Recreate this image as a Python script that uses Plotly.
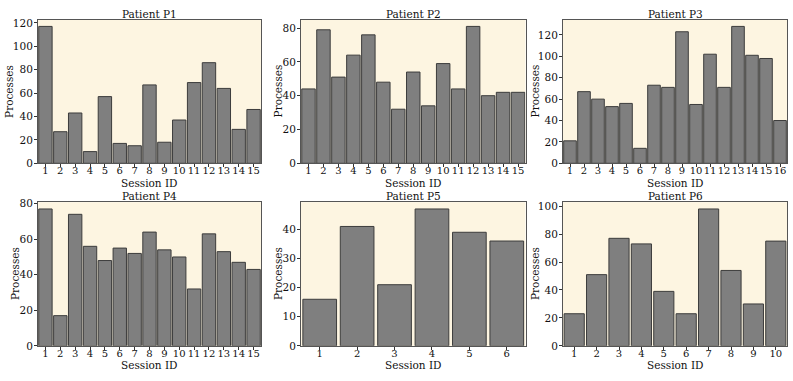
import plotly.graph_objects as go
from plotly.subplots import make_subplots

# processes per session
p1 = [117, 27, 43, 10, 57, 17, 15, 67, 18, 37, 69, 86, 64, 29, 46]
p2 = [44, 79, 51, 64, 76, 48, 32, 54, 34, 59, 44, 81, 40, 42, 42]
p3 = [21, 67, 60, 53, 56, 14, 73, 71, 123, 55, 102, 71, 128, 101, 98, 40]
p4 = [77, 17, 74, 56, 48, 55, 52, 64, 54, 50, 32, 63, 53, 47, 43]
p5 = [16, 41, 21, 47, 39, 36]
p6 = [23, 51, 77, 73, 39, 23, 98, 54, 30, 75]

patients = ["P1", "P2", "P3", "P4", "P5", "P6"]
values = [p1, p2, p3, p4, p5, p6]
ydticks = [20, 20, 20, 20, 10, 20]

W, H = 793, 381
FONT = "DejaVu Serif"
TXT = "#111"

fig = make_subplots(rows=2, cols=3)

# subplot boxes in pixels (left, right, top, bottom)
xbox = [(38, 261), (301, 525.5), (563, 787)]
ybox = [(15, 163), (203, 351)]
# x centre of the "Processes" label per subplot
ylab_x = [9.5, 278, 535, 15, 278, 535]

for i, (name, vals) in enumerate(zip(patients, values)):
    r, c = i // 3 + 1, i % 3 + 1
    sessions = list(range(1, len(vals) + 1))
    fig.add_trace(go.Bar(
        x=sessions, y=vals,
        marker=dict(color="#7f7f7f", line=dict(color="#3c3c3c", width=1)),
        showlegend=False,
    ), row=r, col=c)

    x0, x1 = xbox[c - 1]
    t, b = ybox[r - 1]
    n = i + 1
    xa = "xaxis" if n == 1 else f"xaxis{n}"
    ya = "yaxis" if n == 1 else f"yaxis{n}"
    fig.layout[xa].update(
        domain=[x0 / W, x1 / W],
        range=[0.5, len(vals) + 0.5],
        tickmode="array", tickvals=sessions,
    )
    fig.layout[ya].update(
        domain=[1 - b / H, 1 - t / H],
        range=[0, max(vals) * 1.05],
        dtick=ydticks[i],
    )
    # subplot title
    fig.add_annotation(
        text=f"Patient {name}", x=(x0 + x1) / 2 / W, y=1 - t / H,
        xref="paper", yref="paper", xanchor="center", yanchor="middle",
        yshift=6, showarrow=False, font=dict(size=10.5, color=TXT),
    )
    # x axis title
    fig.add_annotation(
        text="Session ID", x=(x0 + x1) / 2 / W, y=1 - b / H,
        xref="paper", yref="paper", xanchor="center", yanchor="middle",
        yshift=-19.5, showarrow=False, font=dict(size=10.5, color=TXT),
    )
    # y axis title
    fig.add_annotation(
        text="Processes", textangle=-90, x=ylab_x[i] / W, y=1 - (t + b) / 2 / H,
        xref="paper", yref="paper", xanchor="center", yanchor="middle",
        showarrow=False, font=dict(size=10.5, color=TXT),
    )

fig.update_xaxes(showgrid=False, zeroline=False, showline=True, mirror=True,
                 linecolor="#555", linewidth=1, ticks="outside", ticklen=3,
                 tickcolor="#333", tickangle=0, ticklabelstandoff=-5,
                 tickfont=dict(size=10, color=TXT))
fig.update_yaxes(showgrid=False, zeroline=False, showline=True, mirror=True,
                 linecolor="#555", linewidth=1, ticks="outside", ticklen=3,
                 tickcolor="#333", tickangle=0, ticklabelstandoff=-1,
                 tickfont=dict(size=10.5, color=TXT))

fig.update_layout(
    width=W, height=H,
    margin=dict(l=0, r=0, t=0, b=0),
    paper_bgcolor="white",
    plot_bgcolor="#fdf5e1",
    bargap=0.1,
    font=dict(family=FONT, size=10.5, color=TXT),
)

# the page body has a default 8px margin; drop it so the figure fills the window
fig.write_html("out.html", config={"displayModeBar": False},
               post_script="document.body.style.margin='0';")
